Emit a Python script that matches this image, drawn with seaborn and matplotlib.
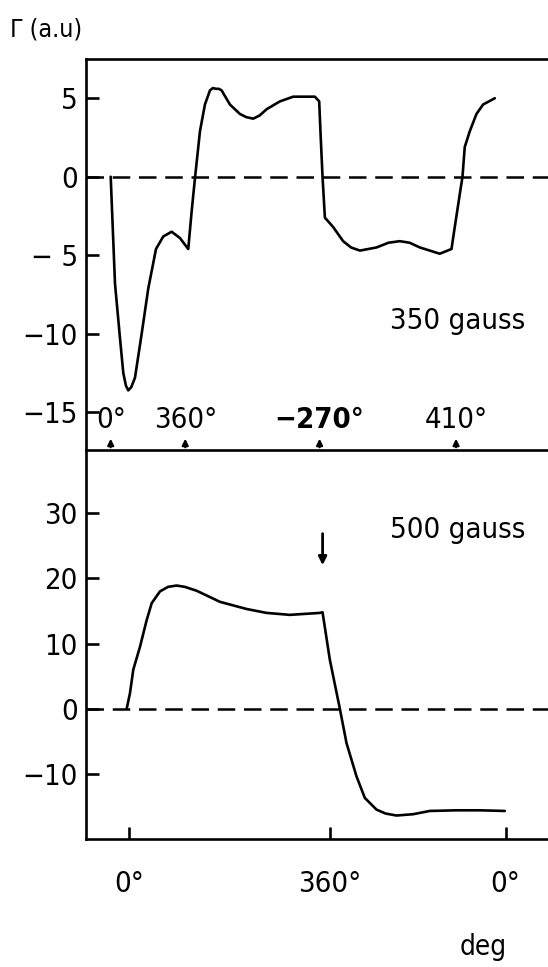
import numpy as np
import pandas as pd
import matplotlib.pyplot as plt
import seaborn as sns

# sweep position (display units, 0 -> 360 deg of the lower sweep) and signal
x_350 = [-32.8, -25.1, -16.1, -10.2, -5.5, -1.3, 4.0, 10.7, 22.7, 34.6, 48.4, 61.4, 76.5, 91.3,
         106.2, 112.3, 118.2, 127.2, 136.1, 145.1, 150.5, 155.8, 161.0, 166.0, 180.9, 198.8, 210.0, 222.6,
         234.0, 246.6, 270.5, 294.3, 318.3, 333.2, 340.9, 343.4, 346.9, 351.1, 365.9, 383.8,
         398.0, 413.8, 443.7, 465.0, 485.4, 503.0, 521.2, 557.0, 578.0, 583.9, 592.9, 597.7, 601.8, 610.8,
         622.8, 634.6, 655.6]
g_350 = [0.0, -6.8, -10.3, -12.5, -13.3, -13.6, -13.4, -12.8, -10.0, -7.1, -4.6, -3.8, -3.5, -3.9,
         -4.6, -2.2, -0.1, 2.9, 4.6, 5.5, 5.65, 5.6, 5.6, 5.5, 4.6, 4.0, 3.8, 3.7,
         3.9, 4.3, 4.8, 5.1, 5.1, 5.1, 4.8, 2.7, 0.0, -2.6, -3.2, -4.1,
         -4.5, -4.7, -4.5, -4.2, -4.1, -4.2, -4.5, -4.9, -4.6, -3.2, -1.1, 0.0, 1.9, 2.9,
         4.0, 4.6, 5.0]

x_500 = [-4.1, 1.8, 7.7, 19.7, 31.7, 40.7, 55.5, 70.0, 85.4, 100.0, 121.3, 163.0, 210.8, 246.6,
         288.4, 342.1, 346.9, 360.0, 377.9, 389.9, 407.8, 422.7, 443.7, 460.0, 479.5, 509.2,
         539.1, 586.9, 628.7, 673.5]
g_500 = [0.0, 2.4, 6.0, 9.5, 13.6, 16.2, 18.0, 18.7, 18.9, 18.7, 18.1, 16.4, 15.3, 14.7,
         14.4, 14.7, 14.8, 7.5, 0.0, -5.3, -10.4, -13.7, -15.5, -16.1, -16.4, -16.2,
         -15.7, -15.6, -15.6, -15.7]

top_marks = [-32.8, 100.8, 341.6, 586.2]
top_mark_labels = ['0°', '360°', '−270°', '410°']
bottom_ticks = [0, 360, 675]
bottom_tick_labels = ['0°', '360°', '0°']
yticks_350 = [5, 0, -5, -10, -15]
ytick_labels_350 = ['5', '0', '− 5', '−10', '−15']
yticks_500 = [30, 20, 10, 0, -10]
ytick_labels_500 = ['30', '20', '10', '0', '−10']
arrow_x = 347

sns.set_style('white')
plt.rcParams['font.family'] = ['DejaVu Sans']
plt.rcParams['font.stretch'] = 'condensed'
plt.rcParams['text.color'] = 'black'
plt.rcParams['axes.edgecolor'] = 'black'
plt.rcParams['xtick.color'] = 'black'
plt.rcParams['ytick.color'] = 'black'

fig = plt.figure(figsize=(5.48, 9.67), dpi=100)
ax1 = fig.add_axes([0.157, 0.5346, 0.843, 0.4044])
ax2 = fig.add_axes([0.157, 0.1324, 0.843, 0.4022])
ax1.patch.set_visible(False)
ax2.patch.set_visible(False)

df1 = pd.DataFrame({'x': x_350, 'g': g_350})
df2 = pd.DataFrame({'x': x_500, 'g': g_500})
sns.lineplot(data=df1, x='x', y='g', ax=ax1, color='black', lw=1.9, sort=False)
sns.lineplot(data=df2, x='x', y='g', ax=ax2, color='black', lw=1.9, sort=False)

for ax in (ax1, ax2):
    ax.axhline(0, color='black', lw=1.8, dashes=(7, 3.5), zorder=0)
    ax.set_xlim(-77, 751)
    ax.set_xlabel('')
    ax.set_ylabel('')
    ax.spines['right'].set_visible(False)
    for s in ('left', 'top', 'bottom'):
        ax.spines[s].set_linewidth(1.9)
        ax.spines[s].set_color('black')
    ax.tick_params(axis='y', left=True, direction='in', length=9, width=1.9,
                   labelsize=21, pad=6, colors='black')

ax1.set_ylim(-17.4, 7.5)
ax1.set_yticks(yticks_350, ytick_labels_350)
ax1.tick_params(axis='x', bottom=False, labelbottom=False)
ax2.set_ylim(-20, 39.7)
ax2.set_yticks(yticks_500, ytick_labels_500)
ax2.spines['top'].set_visible(False)
ax2.set_xticks(bottom_ticks, bottom_tick_labels)
ax2.tick_params(axis='x', bottom=True, direction='in', length=9, width=1.9,
                labelsize=21, pad=22, colors='black')

# marker arrows along the lower edge of the 350 gauss panel
for xm, lab in zip(top_marks, top_mark_labels):
    ax1.annotate('', xy=(xm, -16.5), xytext=(xm, -17.4),
                 arrowprops=dict(arrowstyle='-|>', lw=1.6, color='black', mutation_scale=9))
    ax1.text(xm, -15.5, lab, ha='center', va='center', fontsize=21,
             fontweight='bold' if lab.startswith('−') else 'normal')

ax2.annotate('', xy=(arrow_x, 21.6), xytext=(arrow_x, 27.3),
             arrowprops=dict(arrowstyle='-|>', lw=2, color='black', mutation_scale=12))

ax1.text(467, -9.2, '350 gauss', ha='left', va='center', fontsize=21)
ax2.text(467, 27.4, '500 gauss', ha='left', va='center', fontsize=21)

fig.text(0.018, 0.969, 'Γ (a.u)', ha='left', va='center', fontsize=18)
fig.text(0.881, 0.021, 'deg', ha='center', va='center', fontsize=20)

fig.savefig('out.png', dpi=100)
